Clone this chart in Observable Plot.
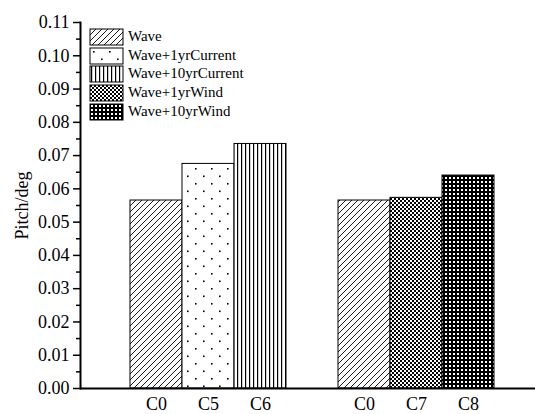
<!DOCTYPE html>
<html>
<head>
<meta charset="utf-8">
<script src="https://cdn.jsdelivr.net/npm/d3@7"></script>
<script src="https://cdn.jsdelivr.net/npm/@observablehq/plot@0.6"></script>
<style>
  html, body { margin: 0; padding: 0; background: #fff; }
  #wrap { position: relative; width: 535px; height: 414px; }
  #chart svg, #chart svg g, #chart svg text { font-family: "Liberation Serif", serif !important; font-variant: normal !important; font-variant-numeric: normal !important; }
  #legend { position: absolute; left: 90px; top: 28px; }
  #legend svg { margin-right: 5px !important; }
  #legend svg rect { stroke: #000; stroke-width: 1; }
  #legend span, #legend div { font-family: "Liberation Serif", serif !important; font-size: 15px; color: #000; }
</style>
</head>
<body>
<div id="wrap"><div id="chart"></div><div id="legend"></div></div>
<script>
// ---- data ----
const groups = ["G1", "G1", "G1", "G2", "G2", "G2"];
const categories = ["C0", "C5", "C6", "C0", "C7", "C8"];
const seriesNames = ["Wave", "Wave+1yrCurrent", "Wave+10yrCurrent", "Wave", "Wave+1yrWind", "Wave+10yrWind"];
const values = [0.0565, 0.0675, 0.0735, 0.0565, 0.0573, 0.064];
const yTicks = [0, 0.01, 0.02, 0.03, 0.04, 0.05, 0.06, 0.07, 0.08, 0.09, 0.10, 0.11];
const yMinorTicks = [0.005, 0.015, 0.025, 0.035, 0.045, 0.055, 0.065, 0.075, 0.085, 0.095, 0.105];
const legendLabels = ["Wave", "Wave+1yrCurrent", "Wave+10yrCurrent", "Wave+1yrWind", "Wave+10yrWind"];
const patternIds = ["pWave", "p1yrCur", "p10yrCur", "p1yrWind", "p10yrWind"];

// ---- build table ----
const keyOf = (g, c) => g + " " + c;
const rows = categories.map((c, i) => ({
  key: keyOf(groups[i], c),
  category: c,
  series: seriesNames[i],
  value: values[i],
  fill: "url(#" + patternIds[legendLabels.indexOf(seriesNames[i])] + ")"
}));
const g1 = rows.filter((d, i) => groups[i] === "G1").map(d => d.key);
const g2 = rows.filter((d, i) => groups[i] === "G2").map(d => d.key);
const xDomain = [...g1, "gap", ...g2];
const labelOf = new Map(rows.map(d => [d.key, d.category]));

const font = "Liberation Serif";

const chart = Plot.plot({
  width: 535,
  height: 414,
  marginLeft: 80,
  marginRight: 0,
  marginTop: 22,
  marginBottom: 26,
  style: { fontFamily: font, fontSize: "18px", color: "#000", background: "#fff" },
  x: { type: "band", domain: xDomain, range: [126.5, 497], padding: 0 },
  y: { domain: [0, 0.11] },
  color: { type: "identity" },
  marks: [
    Plot.barY(rows, { x: "key", y: "value", fill: "fill", stroke: "#000", strokeWidth: 1, inset: 0 }),
    Plot.axisY({ ticks: yMinorTicks, tickSize: 4, text: null, label: null, strokeWidth: 1.5 }),
    Plot.axisY({
      ticks: yTicks, tickFormat: d3.format(".2f"), tickSize: 7, tickPadding: 4,
      strokeWidth: 1.5, fontSize: 18, fontFamily: font, fontVariant: "normal",
      label: "Pitch/deg", labelAnchor: "center", labelArrow: "none", labelOffset: 65
    }),
    Plot.axisX({ ticks: [...g1, ...g2], tickFormat: d => labelOf.get(d), tickSize: 0, tickPadding: 9, label: null, fontSize: 18, fontFamily: font, fontVariant: "normal" }),
    Plot.frame({ anchor: "left", strokeWidth: 2 }),
    Plot.ruleY([0], { strokeWidth: 2 })
  ]
});

// patterns
const defs = d3.select(chart).insert("defs", ":first-child");
function pat(id, w, h) {
  const p = defs.append("pattern").attr("id", id).attr("patternUnits", "userSpaceOnUse")
    .attr("width", w).attr("height", h);
  p.append("rect").attr("width", w).attr("height", h).attr("fill", "#fff");
  return p;
}
{
  const p = pat("pWave", 6, 6);
  p.append("path").attr("d", "M-1,1 L1,-1 M0,6 L6,0 M5,7 L7,5").attr("stroke", "#000").attr("stroke-width", 0.9);
}
{
  const p = pat("p1yrCur", 16, 15);
  p.append("rect").attr("x", 3).attr("y", 3).attr("width", 1.6).attr("height", 1.6).attr("fill", "#000");
  p.append("rect").attr("x", 11).attr("y", 10.5).attr("width", 1.6).attr("height", 1.6).attr("fill", "#000");
}
{
  const p = pat("p10yrCur", 4, 4);
  p.append("rect").attr("x", 1).attr("y", 0).attr("width", 1.2).attr("height", 4).attr("fill", "#000");
}
{
  const p = pat("p1yrWind", 4, 4);
  p.append("rect").attr("x", 0).attr("y", 0).attr("width", 2).attr("height", 2).attr("fill", "#000");
  p.append("rect").attr("x", 2).attr("y", 2).attr("width", 2).attr("height", 2).attr("fill", "#000");
}
{
  const p = defs.append("pattern").attr("id", "p10yrWind").attr("patternUnits", "userSpaceOnUse")
    .attr("width", 4).attr("height", 4);
  p.append("rect").attr("width", 4).attr("height", 4).attr("fill", "#000");
  p.append("rect").attr("x", 1).attr("y", 1).attr("width", 2).attr("height", 2).attr("fill", "#fff");
}

document.getElementById("chart").appendChild(chart);

const legend = Plot.legend({
  color: { type: "ordinal", domain: legendLabels, range: patternIds.map(id => "url(#" + id + ")") },
  legend: "swatches",
  columns: 1,
  swatchWidth: 33,
  swatchHeight: 16,
  style: { fontFamily: font, fontSize: "15px", color: "#000", lineHeight: "17.7px", marginLeft: "0px" }
});
document.getElementById("legend").appendChild(legend);
</script>
</body>
</html>
